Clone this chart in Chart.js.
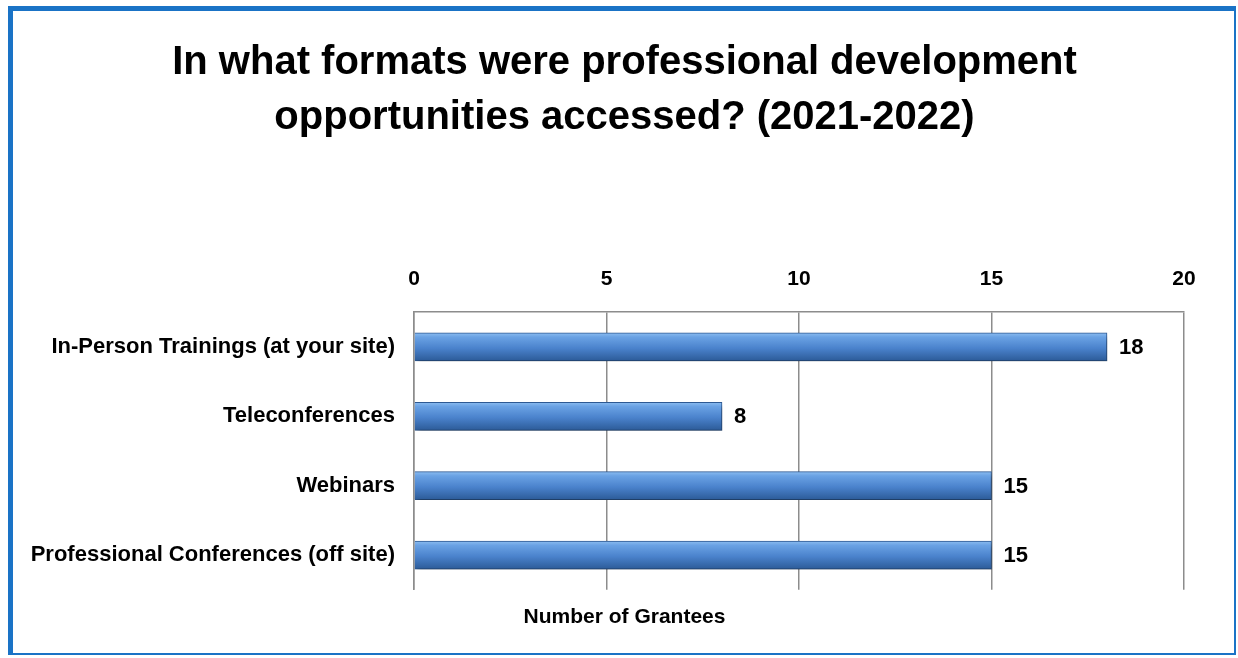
<!DOCTYPE html>
<html>
<head>
<meta charset="utf-8">
<script src="https://cdn.jsdelivr.net/npm/chart.js@4.4.1/dist/chart.umd.min.js"></script>
<style>
    html, body { margin: 0; padding: 0; background: #fff; }
    #wrap { position: relative; width: 1238px; height: 658px; }
    #moldura {
        position: absolute; left: 8px; top: 6px; width: 1221px; height: 642px;
        border-style: solid; border-color: #1a73c6;
        border-width: 5px 2px 2px 5px; pointer-events: none;
    }
</style>
</head>
<body>
<div id="wrap">
    <canvas id="grafico" width="1238" height="658"></canvas>
    <div id="moldura"></div>
</div>
<script>
// Dados do gráfico
const categorias = [
    'In-Person Trainings (at your site)',
    'Teleconferences',
    'Webinars',
    'Professional Conferences (off site)'
];
const valores = [18, 8, 15, 15];
const tituloLinhas = [
    'In what formats were professional development',
    'opportunities accessed? (2021-2022)'
];
const tituloEixo = 'Number of Grantees';
const eixoMin = 0, eixoMax = 20, eixoPasso = 5;

const FONTE = "'Liberation Sans Narrow', 'Arial Narrow', 'Liberation Sans', sans-serif";
const ESPESSURA = 28;

// Gradiente vertical por barra, calculado a partir da escala y
function corBarra(ctx) {
    const chart = ctx.chart;
    const y = chart.scales && chart.scales.y;
    if (!y || !chart.chartArea) return '#4a86d0';
    const centro = y.getPixelForValue(ctx.dataIndex);
    const g = chart.ctx.createLinearGradient(0, centro - ESPESSURA / 2, 0, centro + ESPESSURA / 2);
    g.addColorStop(0, '#8bbcf0');
    g.addColorStop(0.15, '#6aa2e4');
    g.addColorStop(0.55, '#4a82cc');
    g.addColorStop(1, '#2c5b98');
    return g;
}

// Sombra sob as barras
const sombraPlugin = {
    id: 'sombra',
    beforeDatasetDraw(chart) {
        const c = chart.ctx;
        c.save();
        c.shadowColor = 'rgba(0,0,0,0.35)';
        c.shadowBlur = 5;
        c.shadowOffsetX = 3;
        c.shadowOffsetY = 4;
    },
    afterDatasetDraw(chart) {
        chart.ctx.restore();
    }
};

// Rótulos de valor à direita das barras
const rotulosPlugin = {
    id: 'rotulos',
    afterDatasetsDraw(chart) {
        const c = chart.ctx;
        const meta = chart.getDatasetMeta(0);
        c.save();
        c.font = 'bold 22px ' + FONTE;
        c.fillStyle = '#000';
        c.textAlign = 'left';
        c.textBaseline = 'middle';
        meta.data.forEach((bar, i) => {
            c.fillText(String(valores[i]), bar.x + 12, bar.y + 1);
        });
        c.restore();
    }
};

new Chart(document.getElementById('grafico').getContext('2d'), {
    type: 'bar',
    data: {
        labels: categorias,
        datasets: [{
            data: valores,
            backgroundColor: corBarra,
            borderColor: '#2d5a94',
            borderWidth: 1,
            borderSkipped: 'start',
            barThickness: ESPESSURA
        }]
    },
    options: {
        indexAxis: 'y',
        responsive: false,
        animation: false,
        layout: { padding: { left: 11, right: 0, top: 0, bottom: 0 } },
        plugins: {
            legend: { display: false },
            tooltip: { enabled: false },
            title: {
                display: true,
                text: tituloLinhas,
                color: '#000',
                font: { family: FONTE, size: 40, weight: 'bold', lineHeight: 1.375 },
                padding: { top: 35, bottom: 102 }
            },
            // título do eixo de valores, abaixo do gráfico
            subtitle: {
                display: true,
                position: 'bottom',
                text: tituloEixo,
                color: '#000',
                font: { family: FONTE, size: 21, weight: 'bold', lineHeight: 1.2 },
                padding: { top: 15, bottom: 28 }
            }
        },
        scales: {
            x: {
                position: 'top',
                min: eixoMin,
                max: eixoMax,
                ticks: {
                    stepSize: eixoPasso,
                    color: '#000',
                    padding: 20,
                    font: { family: FONTE, size: 21, weight: 'bold' }
                },
                grid: { color: '#8c8c8c', lineWidth: 1.5, drawTicks: false },
                border: { color: '#8c8c8c', width: 1.5 }
            },
            y: {
                ticks: {
                    color: '#000',
                    padding: 19,
                    font: { family: FONTE, size: 22, weight: 'bold' }
                },
                grid: { display: false, drawTicks: false },
                border: { color: '#8c8c8c', width: 1.5 },
                afterFit(scale) { scale.width = 403; }
            },
            // eixo vazio à direita, só para reservar a margem
            margem: {
                type: 'linear',
                position: 'right',
                display: true,
                ticks: { display: false },
                grid: { display: false, drawTicks: false },
                border: { display: false },
                afterFit(scale) { scale.width = 54; }
            }
        }
    },
    plugins: [sombraPlugin, rotulosPlugin]
});
</script>
</body>
</html>
